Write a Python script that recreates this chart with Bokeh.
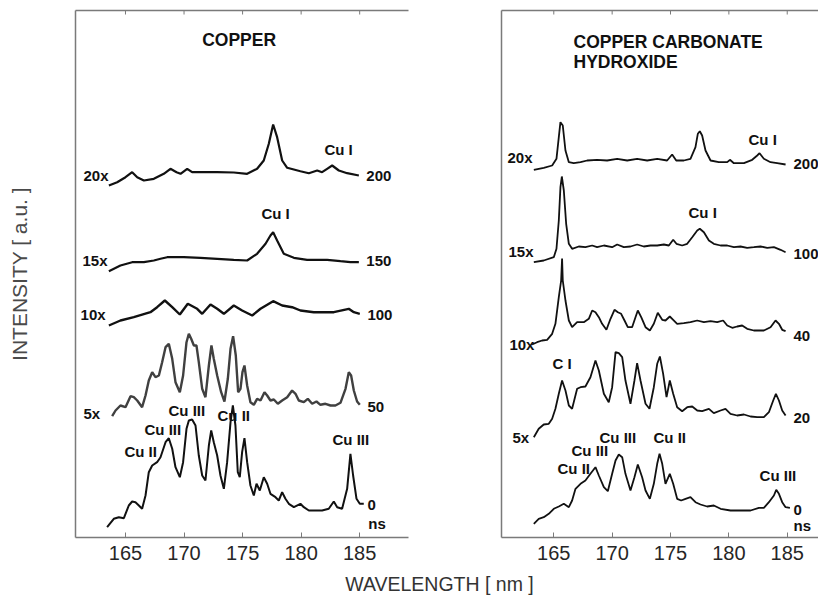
from bokeh.plotting import figure
from bokeh.models import Range1d, LinearAxis, FixedTicker, ColumnDataSource, Label
from bokeh.layouts import row, column
from bokeh.embed import file_html
from bokeh.resources import INLINE
from bokeh.core.properties import value

FONT = "Liberation Sans"
TICKS = [165, 170, 175, 180, 185]

# ---------------- COPPER: emission spectra (wavelength nm, stacked intensity a.u.)
cu_0ns_wl = [163.43, 164.00, 164.43, 164.86, 165.28, 165.57, 165.85, 166.14, 166.42, 166.71,
             166.99, 167.28, 167.70, 167.99, 168.42, 168.70, 168.99, 169.27, 169.64, 169.92,
             170.21, 170.41, 170.69, 170.98, 171.26, 171.55, 171.83, 172.12, 172.32, 172.54,
             172.83, 173.11, 173.40, 173.68, 173.97, 174.17, 174.39, 174.59, 174.76, 174.96,
             175.16, 175.39, 175.67, 175.96, 176.19, 176.47, 176.81, 177.10, 177.38, 177.81,
             178.09, 178.38, 178.66, 178.95, 179.38, 179.94, 180.23, 180.66, 181.23, 181.79,
             182.36, 182.79, 183.08, 183.50, 183.93, 184.21, 184.44, 184.73, 185.01, 185.35]
cu_0ns_int = [10.3, 18.7, 20.3, 19.3, 32, 36, 35.3, 32, 28.7, 42,
              65.3, 72, 75.3, 80.3, 95.3, 99.3, 88.7, 70.3, 60.3, 75.3,
              108.7, 117, 118, 112, 82, 62, 57, 92, 107, 95.3,
              82, 62, 48.7, 75.3, 115.3, 132, 112, 65.3, 60.3, 85.3,
              99.3, 75.3, 52, 42, 53.7, 47, 60.3, 53.7, 43.7, 40.3,
              37, 45.3, 38.7, 33.7, 30.3, 33.7, 30.3, 27, 27, 27,
              28.7, 36, 30.3, 28.7, 48.7, 83.7, 62, 38.7, 33.7, 33.7]

cu_50ns_wl = [163.86, 164.15, 164.57, 165.00, 165.43, 165.71, 166.00, 166.42, 166.71, 166.99,
              167.28, 167.56, 167.85, 168.13, 168.42, 168.70, 168.99, 169.27, 169.64, 169.92,
              170.21, 170.41, 170.61, 170.84, 171.06, 171.26, 171.55, 171.83, 172.12, 172.34,
              172.54, 172.83, 173.17, 173.45, 173.74, 173.97, 174.19, 174.42, 174.62, 174.82,
              174.99, 175.16, 175.39, 175.67, 175.96, 176.24, 176.53, 176.87, 177.10, 177.38,
              177.67, 178.01, 178.38, 178.81, 179.23, 179.52, 179.80, 180.23, 180.57, 180.94,
              181.31, 181.65, 182.08, 182.51, 182.93, 183.36, 183.79, 184.07, 184.27, 184.50,
              184.78, 185.01]
cu_50ns_int = [121.3, 127, 132, 130.3, 141.3, 140.3, 137, 130.3, 142, 157,
               165.3, 160.3, 162, 175.3, 190.3, 193.7, 178.7, 155.3, 145.3, 162,
               195.3, 203.7, 198.7, 192, 192, 175.3, 148.7, 140.3, 172, 192,
               178.7, 162, 145.3, 136, 158.7, 188.7, 201.3, 182, 145.3, 148.7,
               165.3, 172, 152, 135.3, 132.7, 138.7, 137, 145.3, 142, 137,
               138, 133.7, 137, 140.3, 147, 143.7, 137, 135.3, 138.7, 133.7,
               136, 132.7, 133.7, 132, 132, 134.7, 148.7, 165.3, 162, 147,
               136, 132.7]

cu_100ns_wl = [163.58, 164.57, 165.71, 167.13, 167.70, 168.36, 168.99, 169.64, 170.32, 171.12,
               171.55, 172.26, 172.83, 173.40, 174.25, 174.96, 175.82, 176.53, 177.61, 178.38,
               179.23, 179.94, 181.08, 182.79, 184.07, 184.50, 185.01]
cu_100ns_int = [212, 217, 220.3, 225.3, 230.3, 237, 230.3, 223, 233.7, 228.7,
                223.7, 233, 228.7, 223.7, 232, 227, 222, 228.7, 236.3, 232,
                230.3, 227, 225.3, 225.3, 228.7, 225.3, 223.7]

cu_150ns_wl = [163.58, 164.57, 165.57, 166.57, 167.42, 167.99, 168.56, 169.98, 171.40, 172.83,
               174.25, 175.39, 176.24, 176.96, 177.38, 177.61, 177.95, 178.52, 179.38, 180.51,
               182.22, 183.36, 184.21, 184.93]
cu_150ns_int = [266.3, 272, 275.3, 275.3, 277, 278.7, 280.3, 280.3, 279.7, 278.7,
                277.7, 277, 283.7, 293.7, 302, 305.3, 297, 283.7, 279.7, 277.7,
                277.7, 276.3, 275.3, 275.3]

cu_200ns_wl = [163.58, 164.29, 165.00, 165.57, 166.00, 166.57, 167.42, 168.27, 168.84, 169.36,
               169.70, 170.27, 170.69, 171.40, 172.83, 174.25, 175.39, 176.24, 176.81, 177.24,
               177.61, 177.95, 178.38, 178.81, 179.94, 180.66, 181.37, 181.79, 182.22, 182.65,
               183.22, 183.93, 184.93]
cu_200ns_int = [352, 355.3, 360.3, 365.3, 360.3, 357, 358.7, 363.7, 368.7, 365.3,
                363.7, 368.7, 365.3, 365.3, 365.3, 365, 363.7, 368.7, 377, 393.7,
                413, 400.3, 377, 369.7, 366.3, 364.3, 367, 365.3, 368.7, 372,
                367, 364.3, 362]

# ---------------- COPPER CARBONATE HYDROXIDE
cch_0ns_wl = [163.29, 163.71, 164.14, 164.57, 165.00, 165.43, 165.86, 166.29, 166.57, 166.86,
              167.29, 167.71, 168.14, 168.57, 168.86, 169.29, 169.63, 170.00, 170.29, 170.57,
              170.86, 171.14, 171.57, 171.91, 172.20, 172.57, 172.86, 173.23, 173.57, 173.86,
              174.06, 174.29, 174.57, 174.94, 175.23, 175.57, 175.91, 176.29, 176.71, 177.14,
              177.57, 178.14, 178.71, 179.29, 180.14, 181.00, 181.86, 182.57, 183.00, 183.43,
              183.86, 184.06, 184.29, 184.57, 184.86, 185.23]
cch_0ns_int = [13.7, 18.7, 20.3, 23.7, 28.7, 31, 33.7, 30.3, 37, 48.7,
               53.7, 57, 63.7, 70.3, 62, 50.3, 46.3, 63.7, 77, 83,
               80.3, 63.7, 47, 60.3, 73, 60.3, 47, 38.7, 53.7, 73.7,
               83.7, 73.7, 53.7, 63.7, 53.7, 38.7, 37, 38.7, 40.3, 35.3,
               33, 31, 32, 28.7, 27, 27, 27, 29.7, 29.7, 35.3,
               42, 47.7, 43.7, 35.3, 30.3, 29.7]

cch_20ns_wl = [163.29, 163.71, 164.14, 164.57, 164.86, 165.14,
               165.43, 165.71, 166.00, 166.29, 166.57, 167.00, 167.29, 167.71, 168.14, 168.57,
               168.86, 169.29, 169.71, 170.00, 170.29, 170.57, 170.86, 171.14, 171.57, 171.91,
               172.14, 172.43, 172.86, 173.20, 173.57, 173.86, 174.09, 174.37, 174.66, 174.94,
               175.23, 175.57, 176.00, 176.43, 176.86, 177.29, 177.71, 178.29, 178.71, 179.29,
               179.71, 180.14, 180.71, 181.29, 181.86, 182.43, 183.00, 183.43, 183.80, 184.03,
               184.29, 184.57, 184.86]
cch_20ns_int = [100.3, 108.7, 113, 113.7, 118.7, 128.7,
                143.7, 157, 147, 132, 128.7, 148.7, 150.3, 151, 160.3, 177,
                167, 143.7, 135.3, 150.3, 185.3, 184.3, 180.3, 157, 133.7, 157,
                174.3, 157, 133.7, 128.7, 150.3, 173.7, 181, 163.7, 140.3, 157,
                143.7, 130.3, 126.3, 130.3, 131, 127, 126.3, 128.7, 124.3, 127,
                128.7, 123.7, 122, 123, 121, 120.3, 120.3, 125.3, 137, 143.7,
                137, 127, 122]

cch_40ns_wl = [163.14, 163.57, 164.00, 164.43, 164.86, 165.14, 165.43, 165.63, 165.71, 165.77,
               166.00, 166.29, 166.57, 167.00, 167.57, 168.00, 168.29, 168.57, 168.86, 169.14,
               169.51, 169.86, 170.20, 170.49, 170.77, 171.06, 171.34, 171.71, 172.00, 172.20,
               172.49, 172.86, 173.23, 173.57, 173.91, 174.29, 174.57, 174.94, 175.23, 175.57,
               176.14, 176.71, 177.29, 177.86, 178.43, 179.00, 179.51, 179.86, 180.29, 180.71,
               181.14, 181.57, 182.14, 183.00, 183.57, 184.00, 184.29, 184.57, 184.86]
cch_40ns_int = [193, 195.3, 197, 197.7, 203.7, 213.7, 240.3, 257, 279, 257,
                237, 217, 210.3, 215.3, 215.3, 218.7, 227, 225.3, 220.3, 213.7,
                207.7, 218.7, 227.7, 225.3, 223.7, 217, 210.3, 210.3, 220.3, 227,
                220.3, 210.3, 207, 213.7, 224.7, 217.7, 217, 221, 217.7, 213.7,
                214.3, 215.3, 217, 215.3, 216.3, 215.3, 217, 212, 209.7, 211,
                212, 208.7, 207, 207, 210.3, 217, 213.7, 207.7, 206.3]

cch_100ns_wl = [163.29, 164.14, 165.00, 165.23, 165.43, 165.57, 165.69, 165.86, 166.06, 166.29,
                166.57, 167.14, 167.71, 168.29, 168.71, 169.29, 170.00, 170.43, 171.00, 171.57,
                172.14, 172.71, 173.29, 173.86, 174.43, 174.86, 175.23, 175.51, 176.00, 176.43,
                176.86, 177.29, 177.51, 177.86, 178.29, 178.71, 179.29, 179.86, 180.43, 181.00,
                181.57, 182.14, 182.71, 183.29, 183.86, 184.43, 184.86]
cch_100ns_int = [275.3, 277, 280.3, 288.7, 317, 350.3, 361, 347, 313.7, 293.7,
                 288.7, 291, 290.3, 292, 290.3, 292, 290.3, 293, 290.3, 291,
                 293, 291, 292, 292, 293, 292, 297.7, 293.7, 292, 293.7,
                 300.3, 307, 308.7, 305.3, 297, 293.7, 292, 292, 290.3, 291,
                 289.7, 290.3, 291, 289.7, 290.3, 287.7, 285.3]

cch_200ns_wl = [163.29, 164.14, 164.86, 165.23, 165.43, 165.57, 165.77, 166.00, 166.29, 166.71,
                167.29, 167.86, 168.71, 169.57, 170.43, 171.29, 172.14, 173.00, 173.86, 174.71,
                175.14, 175.49, 176.14, 176.71, 177.14, 177.34, 177.51, 177.71, 178.00, 178.43,
                179.14, 179.86, 180.09, 180.43, 181.29, 182.00, 182.43, 182.63, 183.00, 183.57,
                184.14, 184.86]
cch_200ns_int = [367.7, 369.7, 372, 378.7, 400.3, 415.3, 412, 387, 375.3, 374.3,
                 375.3, 377, 377.7, 377, 378.7, 377, 378.7, 377, 378.7, 377,
                 383, 377, 377, 378.7, 390.3, 403.7, 406.3, 402, 387, 377,
                 375.3, 375.3, 377.7, 374.3, 374.3, 377.7, 382, 384.3, 378.7, 375.3,
                 374.3, 373]

# ---------------- annotations: (text, wavelength, intensity)
cu_labels = [
    ("20x", 161.41, 362), ("15x", 161.33, 277), ("10x", 161.16, 223), ("5x", 161.41, 124),
    ("200", 185.57, 362), ("150", 185.57, 277), ("100", 185.66, 223), ("50", 185.66, 131),
    ("0", 185.66, 33), ("ns", 185.74, 14),
    ("Cu I", 181.99, 388), ("Cu I", 176.61, 324),
    ("Cu III", 168.67, 127), ("Cu II", 172.86, 122), ("Cu III", 166.62, 108),
    ("Cu II", 164.91, 86), ("Cu III", 182.68, 98),
]
cch_labels = [
    ("20x", 161.03, 380), ("200", 185.54, 374), ("Cu I", 181.68, 398),
    ("15x", 161.12, 286), ("100", 185.54, 284), ("Cu I", 176.54, 325),
    ("10x", 161.20, 193), ("40", 185.54, 202), ("C I", 164.89, 174),
    ("5x", 161.46, 100), ("20", 185.54, 120),
    ("Cu III", 168.92, 100), ("Cu II", 173.54, 100), ("Cu III", 166.52, 87),
    ("Cu II", 165.32, 69), ("Cu III", 182.63, 62),
    ("0", 185.54, 28), ("ns", 185.54, 12),
]
cu_title = [("COPPER", 171.55, 498)]
cch_title = [("COPPER CARBONATE", 166.69, 496), ("HYDROXIDE", 166.69, 476)]

AXIS_COLOR = "#7a7a7a"
TOP_TICK_LEN = 4


def make_panel(width, border_left, border_right, x_start, x_end):
    p = figure(width=width, height=572, x_range=Range1d(x_start, x_end), y_range=Range1d(0, 527),
               output_backend="svg", toolbar_location=None,
               min_border_left=border_left, min_border_right=border_right,
               min_border_top=10, min_border_bottom=35,
               x_axis_location="below", y_axis_location="left")
    p.outline_line_color = None
    p.grid.visible = False
    p.background_fill_color = "white"

    # wavelength axis with inward ticks
    xa = p.xaxis[0]
    xa.ticker = FixedTicker(ticks=TICKS)
    xa.axis_line_color = AXIS_COLOR
    xa.axis_line_width = 1.5
    xa.major_tick_line_color = AXIS_COLOR
    xa.major_tick_in = 5
    xa.major_tick_out = 0
    xa.minor_tick_line_color = None
    xa.major_label_text_font = FONT
    xa.major_label_text_font_size = "20px"
    xa.major_label_text_color = "#262626"
    xa.major_label_standoff = 8

    # frame top edge; its small inward ticks sit at the same wavelengths
    top = LinearAxis(ticker=FixedTicker(ticks=[]), axis_line_color=AXIS_COLOR, axis_line_width=1.5,
                     major_tick_line_color=None, minor_tick_line_color=None)
    p.add_layout(top, "above")
    y_top = p.y_range.end
    p.segment(x0=TICKS, y0=[y_top] * len(TICKS), x1=TICKS, y1=[y_top - TOP_TICK_LEN] * len(TICKS),
              line_color=AXIS_COLOR, line_width=1)

    # left frame edge (no intensity scale)
    ya = p.yaxis[0]
    ya.ticker = FixedTicker(ticks=[])
    ya.axis_line_color = AXIS_COLOR
    ya.axis_line_width = 1.5
    ya.major_tick_line_color = None
    ya.minor_tick_line_color = None
    return p


def add_texts(p, items, size):
    src = ColumnDataSource(dict(text=[t for t, _, _ in items],
                                x=[x for _, x, _ in items],
                                y=[y for _, _, y in items]))
    p.text(x="x", y="y", text="text", source=src, text_font=value(FONT),
           text_font_size=size, text_font_style="bold", text_align="left",
           text_baseline="middle", text_color="#111111")


# Left panel: COPPER
p1 = make_panel(440, 75, 32, 160.73, 189.17)
p1.yaxis[0].axis_label = "INTENSITY [ a.u. ]"
p1.yaxis[0].axis_label_text_font = FONT
p1.yaxis[0].axis_label_text_font_style = "normal"
p1.yaxis[0].axis_label_text_font_size = "21px"
p1.yaxis[0].axis_label_text_color = "#4a4a4a"
p1.yaxis[0].axis_label_standoff = 45

p1.line(cu_200ns_wl, cu_200ns_int, line_color="#111111", line_width=2.2)
p1.line(cu_150ns_wl, cu_150ns_int, line_color="#111111", line_width=2.2)
p1.line(cu_100ns_wl, cu_100ns_int, line_color="#111111", line_width=2.4)
p1.line(cu_50ns_wl, cu_50ns_int, line_color="#404040", line_width=2.4)
p1.line(cu_0ns_wl, cu_0ns_int, line_color="#111111", line_width=2.0)
add_texts(p1, cu_labels, "15px")
add_texts(p1, cu_title, "17.5px")

# Right panel: COPPER CARBONATE HYDROXIDE
p2 = make_panel(378, 61, 0, 160.52, 187.68)
for wl, inten in [(cch_200ns_wl, cch_200ns_int), (cch_100ns_wl, cch_100ns_int),
                  (cch_40ns_wl, cch_40ns_int), (cch_20ns_wl, cch_20ns_int),
                  (cch_0ns_wl, cch_0ns_int)]:
    p2.line(wl, inten, line_color="#111111", line_width=1.8)
add_texts(p2, cch_labels, "15px")
add_texts(p2, cch_title, "17.5px")

# Shared wavelength caption under both panels
p3 = figure(width=818, height=23, x_range=Range1d(0, 818), y_range=Range1d(0, 1),
            output_backend="svg", toolbar_location=None, min_border=0,
            x_axis_location=None, y_axis_location=None)
p3.outline_line_color = None
p3.grid.visible = False
p3.add_layout(Label(x=439, y=0.5, text="WAVELENGTH [ nm ]", text_align="center",
                    text_baseline="middle", text_font=FONT, text_font_size="19.5px",
                    text_color="#333333"))

layout = column(row(p1, p2, spacing=0), p3, spacing=0)

with open("out.html", "w") as f:
    f.write(file_html(layout, INLINE, title="Copper spectra"))
